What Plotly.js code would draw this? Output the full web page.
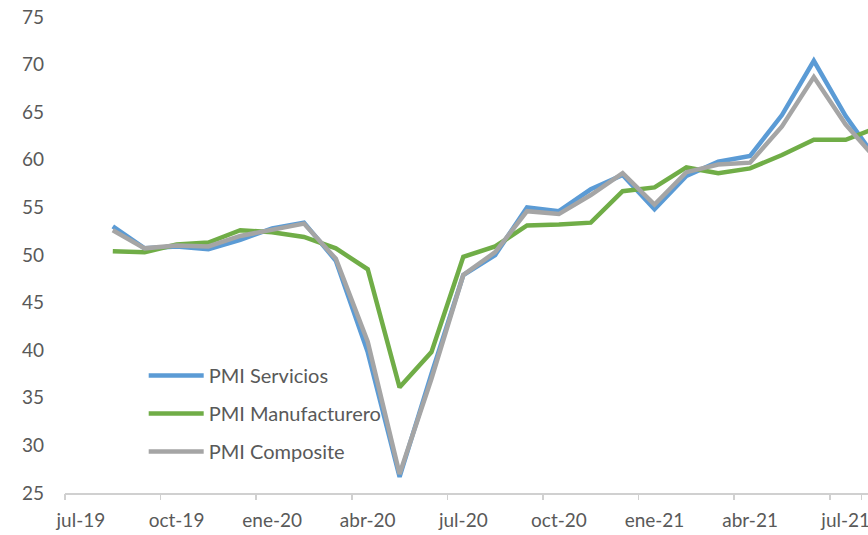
<!DOCTYPE html>
<html>
<head>
<meta charset="utf-8">
<script src="https://cdn.plot.ly/plotly-3.0.1.min.js"></script>
<style>html,body{margin:0;padding:0;background:#fff;}#chart{width:868px;height:535px;}</style>
</head>
<body>
<div id="chart"></div>
<script>
const months = ['jul-19','ago-19','sep-19','oct-19','nov-19','dic-19','ene-20','feb-20','mar-20','abr-20','may-20','jun-20',
                'jul-20','ago-20','sep-20','oct-20','nov-20','dic-20','ene-21','feb-21','mar-21','abr-21','may-21','jun-21','jul-21'];
const servicios      = [53.0,50.7,50.9,50.6,51.6,52.8,53.4,49.4,39.8,26.7,37.5,47.9,50.0,55.0,54.6,56.9,58.4,54.8,58.3,59.8,60.4,64.7,70.4,64.6,59.9];
const manufacturero  = [50.4,50.3,51.1,51.3,52.6,52.4,51.9,50.7,48.5,36.1,39.8,49.8,50.9,53.1,53.2,53.4,56.7,57.1,59.2,58.6,59.1,60.5,62.1,62.1,63.4];
const composite      = [52.6,50.7,51.0,50.9,52.0,52.7,53.3,49.6,40.9,27.0,37.0,47.9,50.3,54.6,54.3,56.3,58.6,55.3,58.7,59.5,59.7,63.5,68.7,63.7,59.9];
const tickLabels = ['jul-19','oct-19','ene-20','abr-20','jul-20','oct-20','ene-21','abr-21','jul-21'];
const seriesNames = ['PMI Servicios','PMI Manufacturero','PMI Composite'];
const colors = ['#5B9BD5','#70AD47','#A5A5A5'];

const xIdx = months.map((m, i) => i);
const series = [servicios, manufacturero, composite];
const traces = series.map((s, k) => ({
  type: 'scatter', mode: 'lines', x: xIdx, y: s, name: seriesNames[k],
  legendgroup: 'g' + k,
  line: {color: colors[k], width: 4.5, shape: 'linear'},
  hoverinfo: 'skip'
}));

// label positions (Excel offsets labels one slot left of the data) and tick marks at slot boundaries
const labelVals = tickLabels.map(t => months.indexOf(t) - 1);
const boundaryVals = tickLabels.map(t => months.indexOf(t) - 1.5).concat([months.length - 1.5]);

const xr = [-1.5, 23.7];
const fontFam = 'Lato, "Open Sans", sans-serif';
const layout = {
  width: 868, height: 535,
  margin: {l: 65, r: 0, t: 17, b: 42},
  paper_bgcolor: '#ffffff', plot_bgcolor: '#ffffff',
  font: {family: fontFam, size: 19, color: '#595959'},
  showlegend: true,
  legend: {x: 0.098, y: 0.288, xanchor: 'left', yanchor: 'top', bgcolor: 'rgba(0,0,0,0)',
           font: {family: fontFam, size: 20, color: '#595959'}, tracegroupgap: 9, itemwidth: 55},
  xaxis: {range: xr, tickmode: 'array', tickvals: labelVals, ticktext: tickLabels,
          ticks: '', showgrid: false, zeroline: false, showline: true, linecolor: '#D0D0D0', linewidth: 1.5,
          tickfont: {family: fontFam, size: 19, color: '#595959'}, ticklabelstandoff: 10,
          ticklabeloverflow: 'allow', fixedrange: true},
  xaxis2: {range: xr, overlaying: 'x', side: 'bottom', anchor: 'y', tickmode: 'array', tickvals: boundaryVals,
           showticklabels: false, ticks: 'outside', ticklen: 6, tickcolor: '#D0D0D0', tickwidth: 1.5,
           showgrid: false, zeroline: false, showline: false},
  yaxis: {range: [25, 75], tickmode: 'linear', tick0: 25, dtick: 5, showgrid: false, zeroline: false,
          showline: false, ticks: '', tickfont: {family: fontFam, size: 19, color: '#595959'}, ticklabelstandoff: 20, fixedrange: true}
};
// invisible trace to activate xaxis2
traces.unshift({type: 'scatter', mode: 'markers', x: [0], y: [50], xaxis: 'x2', yaxis: 'y',
                marker: {opacity: 0}, showlegend: false, hoverinfo: 'skip'});
Plotly.newPlot('chart', traces, layout, {displayModeBar: false, staticPlot: true});
</script>
</body>
</html>
